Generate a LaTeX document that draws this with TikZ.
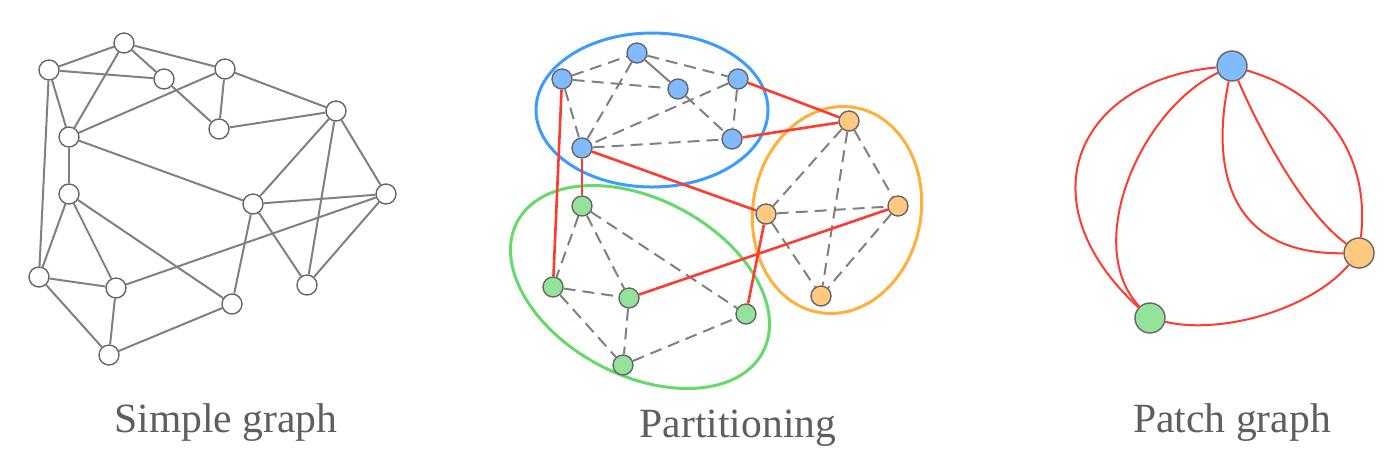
\documentclass[tikz,border=0pt]{standalone}
\usepackage{fontspec}
\setmainfont{Liberation Serif}
\usetikzlibrary{calc}
\usetikzlibrary{positioning}

\definecolor{edgegray}{HTML}{808080}
\definecolor{rimgray}{HTML}{666666}
\definecolor{textgray}{HTML}{5E5E5E}
\definecolor{cutred}{HTML}{FF3B30}
\definecolor{bluefill}{HTML}{80BBFF}
\definecolor{greenfill}{HTML}{94E39B}
\definecolor{orangefill}{HTML}{FFC97F}
\definecolor{blueline}{HTML}{3D9BFF}
\definecolor{greenline}{HTML}{66D96B}
\definecolor{orangeline}{HTML}{FFB03B}

\begin{document}
\begin{tikzpicture}[x=0.5pt,y=-0.5pt,
  vertex/.style={circle,draw=rimgray,line width=0.7pt,fill=white,inner sep=0pt,minimum size=10pt},
  bnode/.style={vertex,fill=bluefill},
  gnode/.style={vertex,fill=greenfill},
  onode/.style={vertex,fill=orangefill},
  pnode/.style={vertex,minimum size=15pt},
  caption/.style={anchor=base,text=textgray,font=\fontsize{20.8}{25}\selectfont}]

  \useasboundingbox (0,0) rectangle (1392,463);

  % simple graph
  \node [vertex] (s_1)  at (124,43)  {};
  \node [vertex] (s_2)  at (49,70)   {};
  \node [vertex] (s_3)  at (164,79)  {};
  \node [vertex] (s_4)  at (225,69)  {};
  \node [vertex] (s_5)  at (219,129) {};
  \node [vertex] (s_6)  at (336,111) {};
  \node [vertex] (s_7)  at (69,137)  {};
  \node [vertex] (s_8)  at (69,194)  {};
  \node [vertex] (s_9)  at (253,204) {};
  \node [vertex] (s_10) at (386,194) {};
  \node [vertex] (s_11) at (39,277)  {};
  \node [vertex] (s_12) at (116,288) {};
  \node [vertex] (s_13) at (307,285) {};
  \node [vertex] (s_14) at (232,304) {};
  \node [vertex] (s_15) at (109,355) {};

  \path [draw=edgegray,line width=1pt]
    (s_1)  edge (s_2)  (s_1) edge (s_3)  (s_1) edge (s_4)  (s_1) edge (s_7)
    (s_2)  edge (s_3)  (s_2) edge (s_7)  (s_2) edge (s_11)
    (s_3)  edge (s_5)
    (s_4)  edge (s_5)  (s_4) edge (s_7)  (s_4) edge (s_6)
    (s_5)  edge (s_6)
    (s_6)  edge (s_9)  (s_6) edge (s_13) (s_6) edge (s_10)
    (s_7)  edge (s_8)  (s_7) edge (s_9)
    (s_8)  edge (s_11) (s_8) edge (s_12) (s_8) edge (s_14)
    (s_9)  edge (s_10) (s_9) edge (s_13) (s_9) edge (s_14)
    (s_10) edge (s_13) (s_10) edge (s_12)
    (s_11) edge (s_12) (s_11) edge (s_15)
    (s_12) edge (s_15)
    (s_15) edge (s_14);

  \node [caption] (simple) at (226,432) {Simple graph};

  % partitioning
  \draw [blueline,line width=1.5pt] (652,110) ellipse [x radius=116,y radius=77];
  \draw [greenline,line width=1.5pt,shift={(640,287)},rotate=-28] (0,0) ellipse [x radius=139,y radius=88];
  \draw [orangeline,line width=1.5pt,shift={(837,210)},rotate=-10] (0,0) ellipse [x radius=84,y radius=104];

  \node [bnode] (b_1) at (562,79)  {};
  \node [bnode] (b_2) at (637,53)  {};
  \node [bnode] (b_3) at (678,89)  {};
  \node [bnode] (b_4) at (738,79)  {};
  \node [bnode] (b_5) at (732,139) {};
  \node [bnode] (b_6) at (582,148) {};

  \node [onode] (o_1) at (849,121) {};
  \node [onode] (o_2) at (766,214) {};
  \node [onode] (o_3) at (898,206) {};
  \node [onode] (o_4) at (821,296) {};

  \node [gnode] (g_1) at (582,206) {};
  \node [gnode] (g_2) at (553,287) {};
  \node [gnode] (g_3) at (629,298) {};
  \node [gnode] (g_4) at (746,314) {};
  \node [gnode] (g_5) at (623,365) {};

  \path [draw=edgegray,line width=1pt,dash pattern=on 6pt off 3.5pt]
    (b_1) edge (b_2) (b_1) edge (b_3) (b_1) edge (b_6)
    (b_2) edge (b_4) (b_2) edge (b_6)
    (b_3) edge (b_5)
    (b_4) edge (b_6) (b_4) edge (b_5)
    (b_6) edge (b_5)
    (o_1) edge (o_2) (o_1) edge (o_4) (o_1) edge (o_3)
    (o_2) edge (o_3) (o_2) edge (o_4)
    (o_3) edge (o_4)
    (g_1) edge (g_2) (g_1) edge (g_3) (g_1) edge (g_4)
    (g_2) edge (g_3) (g_2) edge (g_5)
    (g_3) edge (g_5)
    (g_5) edge (g_4);
  \draw [edgegray,line width=1pt] (b_2) -- (b_3);

  \path [draw=cutred,line width=1.3pt]
    (b_1) edge (g_2)
    (b_6) edge (g_1)
    (b_6) edge (o_2)
    (b_4) edge (o_1)
    (b_5) edge (o_1)
    (g_3) edge (o_3)
    (g_4) edge (o_2);

  \node [caption] (parts) at (738,437) {Partitioning};

  % patch graph
  \node [pnode,fill=bluefill]   (p_b) at (1232,66)  {};
  \node [pnode,fill=orangefill] (p_o) at (1359,253) {};
  \node [pnode,fill=greenfill]  (p_g) at (1150,318) {};

  \draw [cutred,line width=1pt] (p_b) .. controls (1078,80)  and (1022,200) .. (p_g);
  \draw [cutred,line width=1pt] (p_b) .. controls (1140,110) and (1082,245) .. (p_g);
  \draw [cutred,line width=1pt] (p_b) .. controls (1330,95)  and (1370,160) .. (p_o);
  \draw [cutred,line width=1pt] (p_b) .. controls (1255,120) and (1300,210) .. (p_o);
  \draw [cutred,line width=1pt] (p_b) .. controls (1210,170) and (1230,255) .. (p_o);
  \draw [cutred,line width=1pt] (p_g) .. controls (1220,335) and (1310,310) .. (p_o);

  \node [caption] (patch) at (1232,432) {Patch graph};
\end{tikzpicture}
\end{document}
